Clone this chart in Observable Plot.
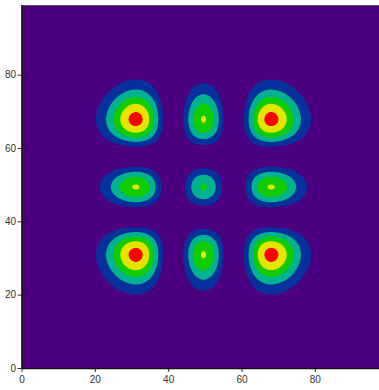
<!DOCTYPE html>
<html>
<head>
<meta charset="utf-8">
<script src="https://cdn.jsdelivr.net/npm/d3@7"></script>
<script src="https://cdn.jsdelivr.net/npm/@observablehq/plot@0.6"></script>
<style>
  html, body { margin: 0; padding: 0; overflow: hidden; background: #ffffff; }
  #chart svg { display: block; max-width: none !important; height: 390px !important; }
</style>
</head>
<body>
<div id="chart"></div>
<script>
// Axis ticks and grid extent
const xTicks = [0, 20, 40, 60, 80];
const yTicks = [0, 20, 40, 60, 80];
const gridExtent = [0, 99];

// Contour levels and their fill colours
const levels = [1, 2, 3, 4, 5];
const levelColors = ["#06309c", "#00b28f", "#10cc00", "#e4e400", "#ff0000"];
const backgroundColor = "#4b007f";

// Field: product of two order-2 Hermite-function densities
const hermiteCoeffs = [-2, 0, 4];   // H2(u) = 4u^2 - 2
const fieldCenter = [49.5, 49.5];   // x, y centre of the pattern
const fieldUnit = [11.67, 11.67];   // grid units per dimensionless unit
const peakValue = 5.35;             // value at the four corner maxima

const H = u => hermiteCoeffs.reduce((s, c, i) => s + c * u ** i, 0);
const dens = u => H(u) ** 2 * Math.exp(-u * u);
const densMax = dens(Math.sqrt(2.5));
const field = (x, y) => {
  const ux = (x - fieldCenter[0]) / fieldUnit[0];
  const uy = (y - fieldCenter[1]) / fieldUnit[1];
  return peakValue * (dens(ux) / densMax) * (dens(uy) / densMax);
};

const chart = Plot.plot({
  width: 385,
  height: 390,
  marginLeft: 21.5,
  marginRight: 0.5,
  marginTop: 5,
  marginBottom: 22,
  style: { fontFamily: "Liberation Sans, Arial, sans-serif", fontSize: "10px", color: "#333", background: "#fff" },
  x: { domain: gridExtent, ticks: xTicks, tickSize: 4, tickPadding: 3, label: null },
  y: { domain: gridExtent, ticks: yTicks, tickSize: 4, tickPadding: 2, label: null },
  color: { type: "ordinal", domain: levels, range: levelColors },
  marks: [
    Plot.frame({ fill: backgroundColor, stroke: null }),
    Plot.contour({
      fill: field,
      x1: gridExtent[0], x2: gridExtent[1],
      y1: gridExtent[0], y2: gridExtent[1],
      thresholds: levels,
      pixelSize: 1,
      stroke: null
    }),
    Plot.frame({ stroke: "#555", strokeWidth: 1 }),
    Plot.ruleX([gridExtent[0]], { stroke: "#111", strokeWidth: 1.5 }),
    Plot.ruleY([gridExtent[0]], { stroke: "#111", strokeWidth: 1.5 })
  ]
});
document.getElementById("chart").appendChild(chart);
</script>
</body>
</html>
